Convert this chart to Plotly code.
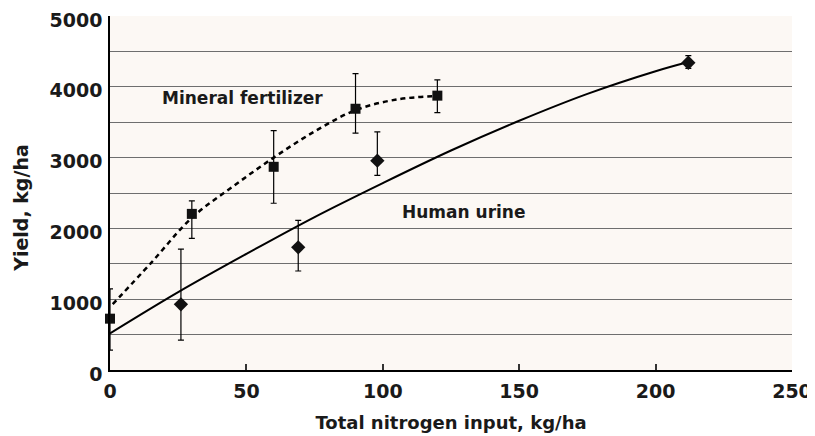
import plotly.graph_objects as go

# Mineral fertilizer (squares) with asymmetric error bars
mineral_n = [0, 30, 60, 90, 120]
mineral_yield = [725, 2205, 2870, 3690, 3875]
mineral_err_plus = [420, 185, 510, 495, 222]
mineral_err_minus = [445, 345, 515, 345, 240]

# Human urine (diamonds)
urine_n = [26, 69, 98, 212]
urine_yield = [928, 1733, 2956, 4340]
urine_err_plus = [780, 380, 406, 100]
urine_err_minus = [505, 335, 206, 80]

# Trend curves
mineral_fit_n = [1, 15, 30, 45, 60, 75, 90, 105, 120]
mineral_fit_yield = [930, 1510, 2150, 2590, 3000, 3370, 3670, 3820, 3870]
urine_fit_n = [0, 25, 50, 75, 100, 125, 150, 175, 200, 212]
urine_fit_yield = [517, 1100, 1640, 2160, 2640, 3100, 3520, 3900, 4220, 4350]

x_ticks = [0, 50, 100, 150, 200, 250]
y_ticks = [0, 1000, 2000, 3000, 4000, 5000]

FONT = "DejaVu Sans"

fig = go.Figure()

fig.add_trace(go.Scatter(
    x=mineral_fit_n, y=mineral_fit_yield, mode="lines",
    line=dict(color="black", width=2.5, dash="5px,4px", shape="spline"),
    hoverinfo="skip", cliponaxis=False
))
fig.add_trace(go.Scatter(
    x=urine_fit_n, y=urine_fit_yield, mode="lines",
    line=dict(color="black", width=2, shape="spline"),
    hoverinfo="skip", cliponaxis=False
))

err_style = dict(type="data", symmetric=False, color="black", thickness=1.2, width=3)

fig.add_trace(go.Scatter(
    x=mineral_n, y=mineral_yield, mode="markers", name="Mineral fertilizer",
    marker=dict(symbol="square", size=10, color="#111111"),
    error_y=dict(array=mineral_err_plus, arrayminus=mineral_err_minus, **err_style),
    cliponaxis=False
))
fig.add_trace(go.Scatter(
    x=urine_n, y=urine_yield, mode="markers", name="Human urine",
    marker=dict(symbol="diamond", size=11, color="#111111"),
    error_y=dict(array=urine_err_plus, arrayminus=urine_err_minus, **err_style),
    cliponaxis=False
))

fig.add_annotation(x=48.4, y=3840, text="Mineral fertilizer", showarrow=False,
                   font=dict(family=FONT, size=17, color="#1a1a1a", weight="bold"))
fig.add_annotation(x=129.4, y=2230, text="Human urine", showarrow=False,
                   font=dict(family=FONT, size=17, color="#1a1a1a", weight="bold"))

# y-axis title as an annotation (sits a little below the axis centre)
fig.add_annotation(xref="paper", yref="paper", x=0, y=0.458, xshift=-89,
                   xanchor="center", yanchor="middle",
                   text="Yield, kg/ha", textangle=-90, showarrow=False,
                   font=dict(family=FONT, size=19, color="#1a1a1a", weight="bold"))

# page body adds an 8px offset, so the figure is 8px smaller than the window
fig.update_layout(
    width=807, height=428,
    margin=dict(l=102, r=23, t=8, b=66),
    paper_bgcolor="white",
    plot_bgcolor="#fcf8f4",
    showlegend=False,
    font=dict(family=FONT, color="#1a1a1a", weight="bold"),
)

fig.update_xaxes(
    range=[0, 250], tickvals=x_ticks, ticktext=[str(v) for v in x_ticks],
    automargin=False, ticklabeloverflow="allow",
    showgrid=False, zeroline=False,
    showline=True, linecolor="black", linewidth=1.5,
    ticks="inside", ticklen=6, tickcolor="#333", tickwidth=1.5,
    tickfont=dict(family=FONT, size=19, weight="bold"),
    ticklabelstandoff=3,
    title=dict(text="Total nitrogen input, kg/ha", standoff=16,
               font=dict(family=FONT, size=18, weight="bold")),
)
fig.update_yaxes(
    range=[0, 5000], tickvals=y_ticks, ticktext=[str(v) for v in y_ticks],
    automargin=False, ticklabeloverflow="allow",
    showgrid=True, gridcolor="#6e6e6e", gridwidth=1.3,
    minor=dict(dtick=500, showgrid=True, gridcolor="#6e6e6e", gridwidth=1.3),
    zeroline=False,
    showline=True, linecolor="black", linewidth=1.5,
    ticks="", ticklabelstandoff=2, ticklabelshift=4,
    tickfont=dict(family=FONT, size=19, weight="bold"),
)

fig.write_html("out.html")
